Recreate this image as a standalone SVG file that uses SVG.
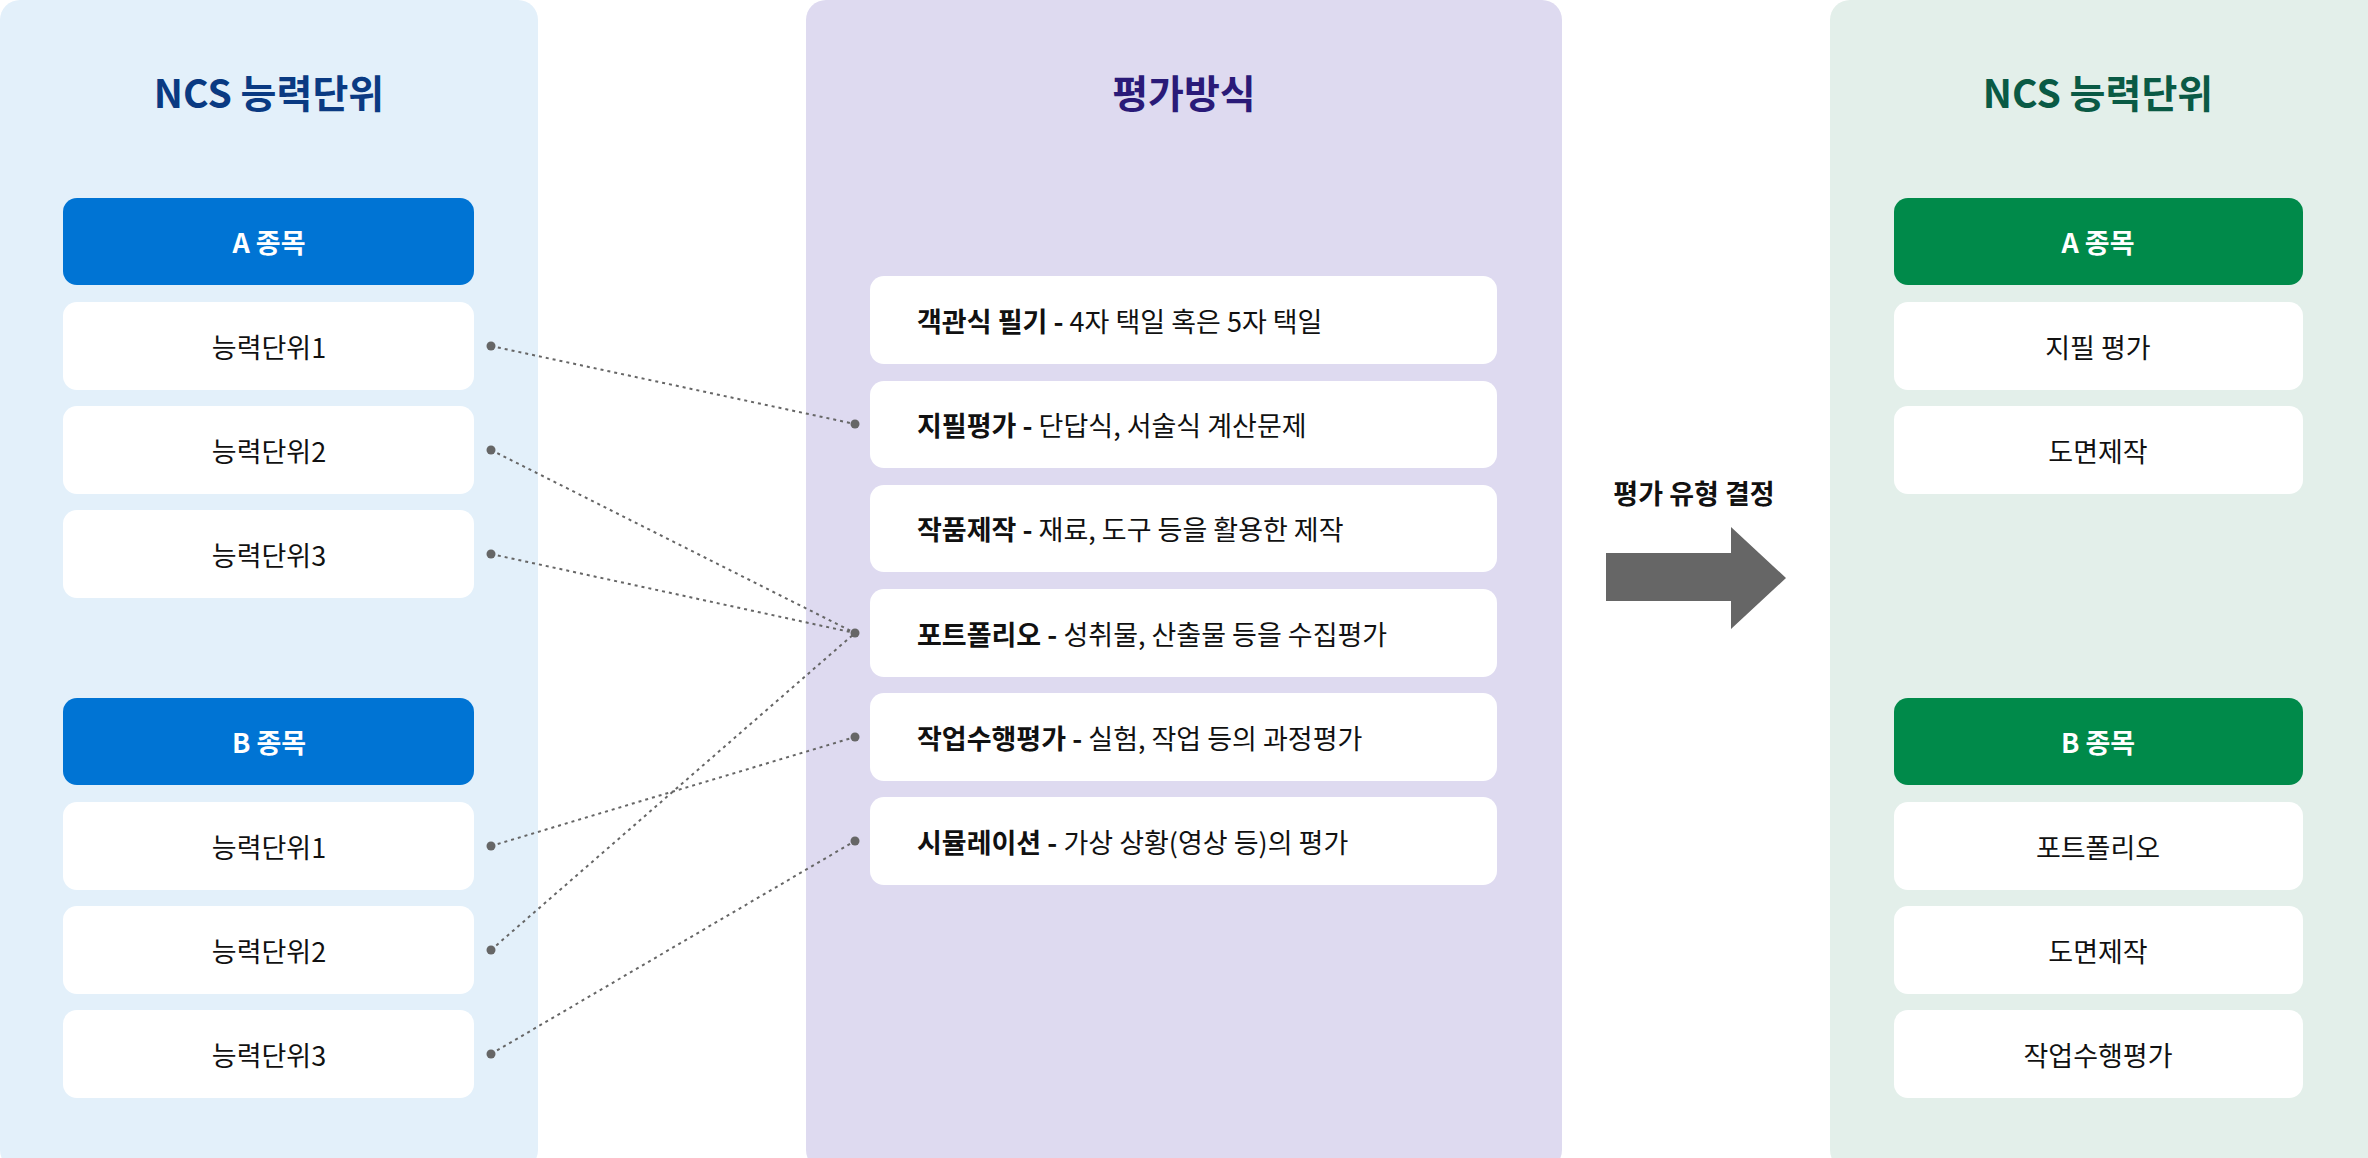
<svg xmlns="http://www.w3.org/2000/svg" width="2368" height="1158" viewBox="0 0 2368 1158">
<style>
text{font-family:"Noto Sans CJK KR","Noto Sans",sans-serif;}
.t{font-size:39px;font-weight:700;text-anchor:middle;dominant-baseline:central}
.h{fill:#fff;font-size:27px;font-weight:700;text-anchor:middle;dominant-baseline:central}
.i{fill:#111;font-size:27px;text-anchor:middle;dominant-baseline:central}
.m{fill:#111;font-size:27px;dominant-baseline:central}
.w{fill:#fff}
.c{stroke:#666;stroke-width:2;stroke-dasharray:3 4;fill:none}
.d{fill:#666}
</style>
<rect width="2368" height="1158" fill="#fff"/>
<g id="leftPanel">
<rect x="0" y="0" width="538" height="1170" rx="20" fill="#e3f0fa"/>
<text class="t" x="269" y="91" fill="#0a3a82">NCS 능력단위</text>
</g>
<g id="lA"><rect x="63" y="198" width="411" height="87" rx="14" fill="#0074d4"/><text class="h" x="269" y="241">A 종목</text></g>
<g id="lA1"><rect class="w" x="63" y="302" width="411" height="88" rx="14"/><text class="i" x="269" y="346">능력단위1</text></g>
<g id="lA2"><rect class="w" x="63" y="406" width="411" height="88" rx="14"/><text class="i" x="269" y="450">능력단위2</text></g>
<g id="lA3"><rect class="w" x="63" y="510" width="411" height="88" rx="14"/><text class="i" x="269" y="554">능력단위3</text></g>
<g id="lB"><rect x="63" y="698" width="411" height="87" rx="14" fill="#0074d4"/><text class="h" x="269" y="741">B 종목</text></g>
<g id="lB1"><rect class="w" x="63" y="802" width="411" height="88" rx="14"/><text class="i" x="269" y="846">능력단위1</text></g>
<g id="lB2"><rect class="w" x="63" y="906" width="411" height="88" rx="14"/><text class="i" x="269" y="950">능력단위2</text></g>
<g id="lB3"><rect class="w" x="63" y="1010" width="411" height="88" rx="14"/><text class="i" x="269" y="1054">능력단위3</text></g>

<g id="midPanel">
<rect x="806" y="0" width="756" height="1170" rx="20" fill="#dedaf0"/>
<text class="t" x="1184" y="91" fill="#2a1a78">평가방식</text>
</g>
<g id="m1"><rect class="w" x="870" y="276" width="627" height="88" rx="14"/><text class="m" x="917" y="320"><tspan font-weight="700">객관식 필기 - </tspan>4자 택일 혹은 5자 택일</text></g>
<g id="m2"><rect class="w" x="870" y="381" width="627" height="87" rx="14"/><text class="m" x="917" y="424"><tspan font-weight="700">지필평가 - </tspan>단답식, 서술식 계산문제</text></g>
<g id="m3"><rect class="w" x="870" y="485" width="627" height="87" rx="14"/><text class="m" x="917" y="528"><tspan font-weight="700">작품제작 - </tspan>재료, 도구 등을 활용한 제작</text></g>
<g id="m4"><rect class="w" x="870" y="589" width="627" height="88" rx="14"/><text class="m" x="917" y="633"><tspan font-weight="700">포트폴리오 - </tspan>성취물, 산출물 등을 수집평가</text></g>
<g id="m5"><rect class="w" x="870" y="693" width="627" height="88" rx="14"/><text class="m" x="917" y="737"><tspan font-weight="700">작업수행평가 - </tspan>실험, 작업 등의 과정평가</text></g>
<g id="m6"><rect class="w" x="870" y="797" width="627" height="88" rx="14"/><text class="m" x="917" y="841"><tspan font-weight="700">시뮬레이션 - </tspan>가상 상황(영상 등)의 평가</text></g>

<g id="arrow">
<text x="1694" y="492" fill="#111" font-size="27" font-weight="700" text-anchor="middle" dominant-baseline="central" font-family="Noto Sans CJK KR,sans-serif">평가 유형 결정</text>
<polygon points="1606,553 1731,553 1731,527 1786,578 1731,629 1731,601 1606,601" fill="#666"/>
</g>

<g id="rightPanel">
<rect x="1830" y="0" width="560" height="1170" rx="20" fill="#e3efea"/>
<text class="t" x="2098" y="91" fill="#0a5a45">NCS 능력단위</text>
</g>
<g id="rA"><rect x="1894" y="198" width="409" height="87" rx="14" fill="#008a4a"/><text class="h" x="2098" y="241">A 종목</text></g>
<g id="rA1"><rect class="w" x="1894" y="302" width="409" height="88" rx="14"/><text class="i" x="2098" y="346">지필 평가</text></g>
<g id="rA2"><rect class="w" x="1894" y="406" width="409" height="88" rx="14"/><text class="i" x="2098" y="450">도면제작</text></g>
<g id="rB"><rect x="1894" y="698" width="409" height="87" rx="14" fill="#008a4a"/><text class="h" x="2098" y="741">B 종목</text></g>
<g id="rB1"><rect class="w" x="1894" y="802" width="409" height="88" rx="14"/><text class="i" x="2098" y="846">포트폴리오</text></g>
<g id="rB2"><rect class="w" x="1894" y="906" width="409" height="88" rx="14"/><text class="i" x="2098" y="950">도면제작</text></g>
<g id="rB3"><rect class="w" x="1894" y="1010" width="409" height="88" rx="14"/><text class="i" x="2098" y="1054">작업수행평가</text></g>

<g id="connectors">
<path class="c" d="M491 346L855 424M491 450L855 633M491 554L855 633M491 846L855 737M491 950L855 633M491 1054L855 841"/>
<g class="d">
<circle cx="491" cy="346" r="4.5"/><circle cx="491" cy="450" r="4.5"/><circle cx="491" cy="554" r="4.5"/>
<circle cx="491" cy="846" r="4.5"/><circle cx="491" cy="950" r="4.5"/><circle cx="491" cy="1054" r="4.5"/>
<circle cx="855" cy="424" r="4.5"/><circle cx="855" cy="633" r="4.5"/><circle cx="855" cy="737" r="4.5"/><circle cx="855" cy="841" r="4.5"/>
</g>
</g>
</svg>
